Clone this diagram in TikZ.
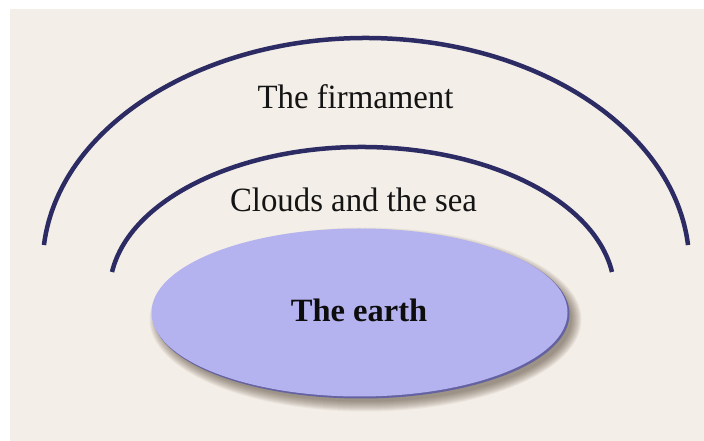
\documentclass[tikz,border=0pt]{standalone}
\usepackage{fontspec}
\setmainfont{Liberation Serif}
\definecolor{paper}{RGB}{243,238,231}
\definecolor{arcblue}{RGB}{44,43,100}
\definecolor{earthfill}{RGB}{180,179,240}
\definecolor{rim}{RGB}{100,98,160}
\begin{document}
\begin{tikzpicture}[x=1pt,y=1pt,
  arcline/.style={draw=arcblue,line width=4.5pt},
  lbl/.style={inner sep=0pt,anchor=base,font=\fontsize{34}{40}\selectfont,xscale=0.965,text=black!92},
  earthlbl/.style={inner sep=0pt,anchor=base,font=\fontsize{32.5}{38}\selectfont\bfseries,text=black!95}]
\useasboundingbox (0,0) rectangle (704,441);
\fill[white] (0,0) rectangle (704,441);
\fill[paper] (10,0) rectangle (704,432);
% outer arc (firmament)
\coordinate (oc) at (366,176);
\draw[arcline] (oc) ++(174.95:323.3 and 227) arc[start angle=174.95,end angle=5.05,x radius=323.3,y radius=227];
% inner arc (clouds and sea)
\coordinate (ic) at (362,149);
\draw[arcline] (ic) ++(172.07:252.4 and 145) arc[start angle=172.07,end angle=7.93,x radius=252.4,y radius=145];
% earth shadow
\coordinate (ec) at (359.5,128.5);
\foreach \k in {10,9,8,7,6,5,4,3,2,1,0}{
  \fill[black!70!brown,opacity=0.05] ([shift={(6,-7)}]ec) ellipse[x radius=206+\k,y radius=82+\k];
}
\fill[rim] ([shift={(1.5,-1.5)}]ec) ellipse[x radius=208.5,y radius=84.5];
\fill[earthfill] (ec) ellipse[x radius=208,y radius=84];
\node[earthlbl] (earth) at (359,119) {The earth};
\node[lbl] (firm) at (355.5,332) {The firmament};
\node[lbl] (clouds) at (353.5,229) {Clouds and the sea};
\end{tikzpicture}
\end{document}
